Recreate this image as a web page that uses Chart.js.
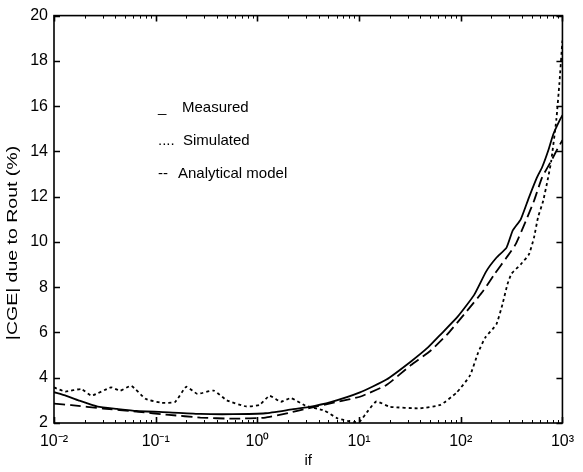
<!DOCTYPE html>
<html>
<head>
<meta charset="utf-8">
<script src="https://cdn.jsdelivr.net/npm/chart.js@4.4.1/dist/chart.umd.min.js"></script>
<style>
  html, body { margin: 0; padding: 0; background: #fff; }
  #wrap { width: 583px; height: 472px; }
</style>
</head>
<body>
<div id="wrap"><canvas id="cgeChart" width="583" height="472"></canvas></div>
<script>
// Values: frequency (x, log axis) and |CGE| in %
const measuredFreq = [0.01, 0.0132, 0.0174, 0.0269, 0.0417, 0.0646, 0.135, 0.275, 0.575, 1.2, 2.19, 3.16, 5.25, 10.2, 18.6, 32.4, 47.9, 64.6, 93.3, 135, 178, 224, 282, 324, 389, 468, 562, 631, 724, 813, 933, 1000];
const measuredCge = [3.36, 3.2, 3.0, 2.72, 2.62, 2.53, 2.47, 2.40, 2.39, 2.43, 2.6, 2.7, 2.92, 3.35, 3.92, 4.72, 5.35, 5.95, 6.7, 7.65, 8.7, 9.3, 9.75, 10.5, 11.0, 11.96, 12.85, 13.3, 14.03, 14.76, 15.35, 15.6];

const simulatedFreq = [0.01, 0.0129, 0.0186, 0.0234, 0.0363, 0.0447, 0.0575, 0.0794, 0.115, 0.155, 0.2, 0.257, 0.372, 0.501, 0.776, 1.05, 1.32, 1.7, 2.14, 2.95, 4.57, 6.17, 8.91, 10.2, 12.3, 14.8, 20, 39.8, 63.1, 91.2, 123, 148, 174, 224, 257, 288, 316, 389, 468, 525, 575, 646, 724, 776, 871, 933, 1000];
const simulatedCge = [3.57, 3.39, 3.5, 3.21, 3.57, 3.43, 3.64, 3.07, 2.89, 2.93, 3.6, 3.29, 3.43, 3.0, 2.73, 2.8, 3.2, 2.94, 3.1, 2.77, 2.55, 2.2, 2.04, 2.08, 2.55, 2.95, 2.72, 2.65, 2.8, 3.35, 4.09, 5.1, 5.77, 6.36, 7.24, 8.13, 8.6, 9.01, 9.45, 10.19, 11.08, 11.81, 12.85, 13.58, 15.4, 17, 18.9];

const analyticalFreq = [0.01, 0.0148, 0.0302, 0.0646, 0.135, 0.275, 0.575, 1.2, 2.04, 3.16, 6.17, 10.2, 18.6, 32.4, 50.1, 74.1, 115, 166, 214, 282, 347, 437, 525, 631, 776, 891, 1000];
const analyticalCge = [2.86, 2.79, 2.64, 2.5, 2.36, 2.24, 2.19, 2.24, 2.45, 2.65, 2.94, 3.16, 3.68, 4.56, 5.18, 5.93, 6.95, 7.83, 8.57, 9.31, 9.9, 10.93, 11.81, 12.85, 13.58, 14.1, 14.5];

const seriesLabels = ['Measured', 'Simulated', 'Analytical model'];
const legendMarks = ['_', '....', '--'];

const xTicks = [0.01, 0.1, 1, 10, 100, 1000];
const xTickLabels = ['10⁻²', '10⁻¹', '10⁰', '10¹', '10²', '10³'];
const yTicks = [2, 4, 6, 8, 10, 12, 14, 16, 18, 20];

const xTitle = 'if';
const yTitle = '|CGE| due to Rout (%)';

const FONT = "'Liberation Sans', Arial, Helvetica, sans-serif";

const toPoints = (xs, ys) => xs.map((x, i) => ({ x: x, y: ys[i] }));

// MATLAB-style box: inward ticks on all sides, text legend and axis titles
const framePlugin = {
  id: 'framePlugin',
  afterDraw(chart) {
    const { ctx, chartArea: a, scales } = chart;
    const sx = scales.x, sy = scales.y;
    ctx.save();
    ctx.strokeStyle = '#000';
    ctx.lineWidth = 1.6;
    ctx.strokeRect(a.left, a.top, a.right - a.left, a.bottom - a.top);

    ctx.beginPath();
    xTicks.forEach((v) => {
      const px = Math.round(sx.getPixelForValue(v)) + 0.5;
      ctx.moveTo(px, a.bottom); ctx.lineTo(px, a.bottom - 6);
      ctx.moveTo(px, a.top); ctx.lineTo(px, a.top + 6);
    });
    yTicks.forEach((v) => {
      const py = Math.round(sy.getPixelForValue(v)) + 0.5;
      ctx.moveTo(a.left, py); ctx.lineTo(a.left + 6, py);
      ctx.moveTo(a.right, py); ctx.lineTo(a.right - 6, py);
    });
    ctx.stroke();

    // minor log ticks
    ctx.lineWidth = 1;
    ctx.beginPath();
    for (let d = 0; d < xTicks.length - 1; d++) {
      for (let k = 2; k <= 9; k++) {
        const px = Math.round(sx.getPixelForValue(k * xTicks[d])) + 0.5;
        ctx.moveTo(px, a.bottom); ctx.lineTo(px, a.bottom - 3);
        ctx.moveTo(px, a.top); ctx.lineTo(px, a.top + 3);
      }
    }
    ctx.stroke();

    // legend, written as plain text like in the original figure
    ctx.fillStyle = '#000';
    ctx.font = '15px ' + FONT;
    ctx.textBaseline = 'middle';
    ctx.textAlign = 'left';
    const rowY = [92, 125, 158];
    const labelX = [128, 129, 124];
    chart.data.datasets.forEach((ds, i) => {
      ctx.fillText(legendMarks[i], a.left + 104, a.top + rowY[i]);
      ctx.fillText(ds.label, a.left + labelX[i], a.top + rowY[i]);
    });

    // axis titles
    ctx.textAlign = 'center';
    ctx.fillText(xTitle, (a.left + a.right) / 2, 461);
    ctx.translate(13, 243);
    ctx.rotate(-Math.PI / 2);
    ctx.scale(1.3, 1);
    ctx.fillText(yTitle, 0, 0);
    ctx.restore();
  }
};

new Chart(document.getElementById('cgeChart'), {
  type: 'line',
  data: {
    datasets: [
      {
        label: seriesLabels[0],
        data: toPoints(measuredFreq, measuredCge),
        borderColor: '#000',
        borderWidth: 1.8,
        pointRadius: 0,
        tension: 0.15,
      },
      {
        label: seriesLabels[1],
        data: toPoints(simulatedFreq, simulatedCge),
        borderColor: '#000',
        borderWidth: 1.8,
        borderDash: [3, 3],
        pointRadius: 0,
        tension: 0.15,
      },
      {
        label: seriesLabels[2],
        data: toPoints(analyticalFreq, analyticalCge),
        borderColor: '#000',
        borderWidth: 1.8,
        borderDash: [11, 5],
        pointRadius: 0,
        tension: 0.15,
      },
    ],
  },
  options: {
    responsive: false,
    animation: false,
    devicePixelRatio: 1,
    layout: { padding: { top: 15, right: 6, left: 0, bottom: 0 } },
    plugins: { legend: { display: false }, tooltip: { enabled: false } },
    scales: {
      x: {
        type: 'logarithmic',
        min: 0.01,
        max: 1000,
        grid: { display: false, drawTicks: false },
        border: { display: false },
        afterBuildTicks: (scale) => { scale.ticks = xTicks.map((v) => ({ value: v })); },
        afterFit: (scale) => { scale.height = 49; },
        ticks: {
          autoSkip: false,
          maxRotation: 0,
          padding: 9,
          color: '#000',
          font: { family: FONT, size: 16 },
          callback: (value) => xTickLabels[xTicks.indexOf(value)],
        },
      },
      y: {
        min: 2,
        max: 20,
        grid: { display: false, drawTicks: false },
        border: { display: false },
        afterBuildTicks: (scale) => { scale.ticks = yTicks.map((v) => ({ value: v })); },
        afterFit: (scale) => { scale.width = 54; },
        ticks: {
          padding: 6,
          color: '#000',
          font: { family: FONT, size: 16 },
        },
      },
    },
  },
  plugins: [framePlugin],
});
</script>
</body>
</html>
